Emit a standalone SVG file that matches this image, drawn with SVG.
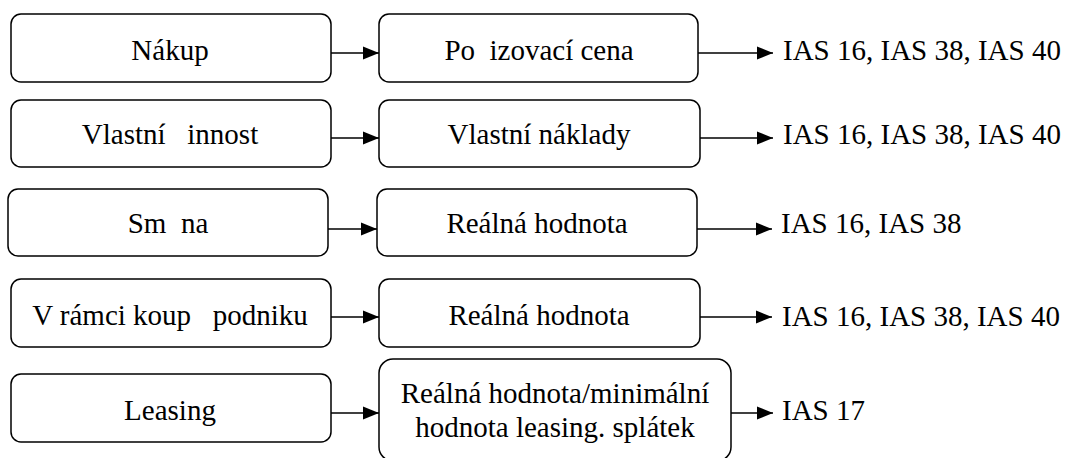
<svg xmlns="http://www.w3.org/2000/svg" width="1067" height="458" viewBox="0 0 1067 458">
<defs>
<marker id="ah" markerUnits="userSpaceOnUse" markerWidth="16" markerHeight="14" refX="16" refY="7" orient="auto">
<path d="M0,0.5 L16,7 L0,13.5 z" fill="#000"/>
</marker>
</defs>
<rect width="1067" height="458" fill="#fff"/>
<g id="connectors" stroke="#000" stroke-width="1.5" fill="none" marker-end="url(#ah)">
<line x1="331" y1="53" x2="379" y2="53"/>
<line x1="698" y1="53" x2="773" y2="53"/>
<line x1="331" y1="138" x2="379" y2="138"/>
<line x1="700" y1="138" x2="773" y2="138"/>
<line x1="328" y1="229" x2="377" y2="229"/>
<line x1="697" y1="229" x2="772" y2="229"/>
<line x1="331" y1="317" x2="379" y2="317"/>
<line x1="700" y1="317" x2="772" y2="317"/>
<line x1="331" y1="413" x2="379" y2="413"/>
<line x1="731" y1="413" x2="773" y2="413"/>
</g>
<g id="nodes" fill="#000">
<g id="n-nakup"><rect fill="#fff" stroke="#000" stroke-width="1.5" x="11" y="14" width="320" height="68" rx="10"/><text style="font-family:'Liberation Serif',serif;font-size:29px" text-anchor="middle" x="170" y="60">Nákup</text></g>
<g id="n-porizovaci"><rect fill="#fff" stroke="#000" stroke-width="1.5" x="379" y="14" width="319" height="68" rx="10"/><text style="font-family:'Liberation Serif',serif;font-size:29px" text-anchor="middle" x="539" y="60">Po&#160; izovací cena</text></g>
<g id="n-ias1"><text style="font-family:'Liberation Serif',serif;font-size:29px" x="783" y="60">IAS 16, IAS 38, IAS 40</text></g>
<g id="n-vlastni"><rect fill="#fff" stroke="#000" stroke-width="1.5" x="11" y="100" width="320" height="67" rx="10"/><text style="font-family:'Liberation Serif',serif;font-size:29px" text-anchor="middle" x="170" y="144">Vlastní&#160;&#160; innost</text></g>
<g id="n-naklady"><rect fill="#fff" stroke="#000" stroke-width="1.5" x="379" y="100" width="321" height="67" rx="10"/><text style="font-family:'Liberation Serif',serif;font-size:29px" text-anchor="middle" x="539" y="144">Vlastní náklady</text></g>
<g id="n-ias2"><text style="font-family:'Liberation Serif',serif;font-size:29px" x="783" y="144">IAS 16, IAS 38, IAS 40</text></g>
<g id="n-smena"><rect fill="#fff" stroke="#000" stroke-width="1.5" x="8" y="189" width="320" height="67" rx="10"/><text style="font-family:'Liberation Serif',serif;font-size:29px" text-anchor="middle" x="168" y="233">Sm&#160; na</text></g>
<g id="n-realna1"><rect fill="#fff" stroke="#000" stroke-width="1.5" x="377" y="189" width="320" height="67" rx="10"/><text style="font-family:'Liberation Serif',serif;font-size:29px" text-anchor="middle" x="537" y="233">Reálná hodnota</text></g>
<g id="n-ias3"><text style="font-family:'Liberation Serif',serif;font-size:29px" x="781" y="233">IAS 16, IAS 38</text></g>
<g id="n-koupe"><rect fill="#fff" stroke="#000" stroke-width="1.5" x="11" y="279" width="320" height="68" rx="10"/><text style="font-family:'Liberation Serif',serif;font-size:29px" text-anchor="middle" x="170" y="325">V rámci koup&#160;&#160; podniku</text></g>
<g id="n-realna2"><rect fill="#fff" stroke="#000" stroke-width="1.5" x="379" y="279" width="321" height="68" rx="10"/><text style="font-family:'Liberation Serif',serif;font-size:29px" text-anchor="middle" x="539" y="325">Reálná hodnota</text></g>
<g id="n-ias4"><text style="font-family:'Liberation Serif',serif;font-size:29px" x="782" y="326">IAS 16, IAS 38, IAS 40</text></g>
<g id="n-leasing"><rect fill="#fff" stroke="#000" stroke-width="1.5" x="11" y="374" width="320" height="68" rx="10"/><text style="font-family:'Liberation Serif',serif;font-size:29px" text-anchor="middle" x="170" y="420">Leasing</text></g>
<g id="n-realna3"><rect fill="#fff" stroke="#000" stroke-width="1.5" x="379" y="359" width="352" height="102" rx="14"/><text style="font-family:'Liberation Serif',serif;font-size:29px" text-anchor="middle" x="555" y="403">Reálná hodnota/minimální</text><text style="font-family:'Liberation Serif',serif;font-size:29px" text-anchor="middle" x="555" y="437">hodnota leasing. splátek</text></g>
<g id="n-ias5"><text style="font-family:'Liberation Serif',serif;font-size:29px" x="782" y="420">IAS 17</text></g>
</g>
</svg>
